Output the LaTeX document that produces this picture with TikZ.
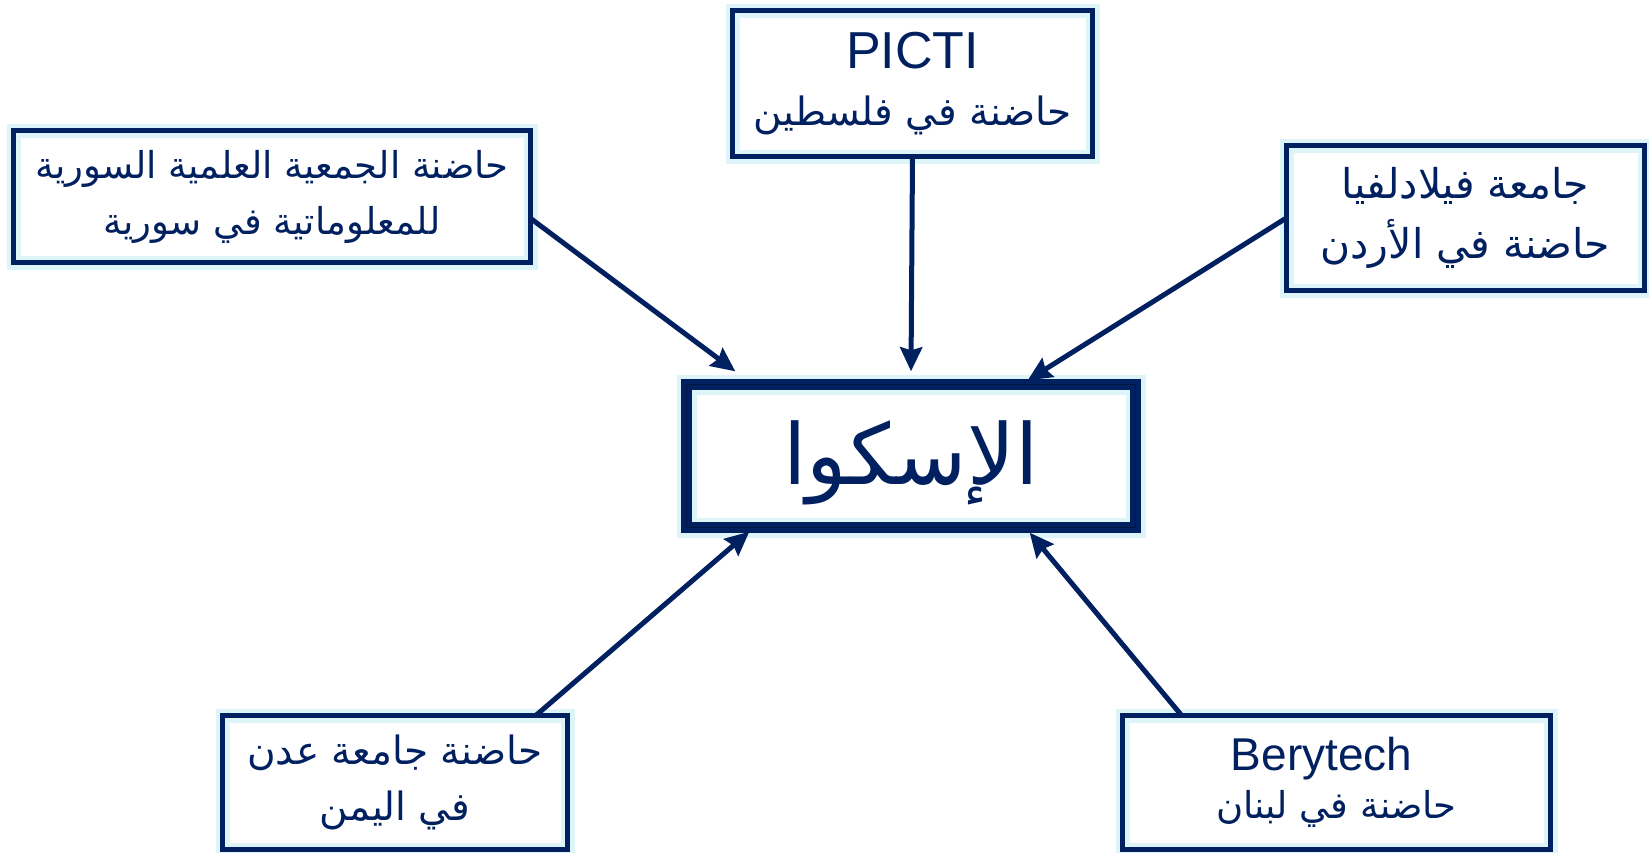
\documentclass[tikz,border=0pt]{standalone}
\usepackage{fontspec}
\setmainfont{Liberation Sans}
\newfontfamily\arfont[Script=Arabic]{DejaVu Sans}
\TeXXeTstate=1
\usetikzlibrary{arrows.meta,calc}
\definecolor{navy}{HTML}{002060}
\definecolor{glow}{HTML}{DDF4F9}
\newcommand{\ar}[1]{{\arfont\beginR #1\endR}}
\begin{document}
\begin{tikzpicture}[x=1pt,y=-1pt,
  box/.style={fill=white, text=navy, align=center, inner sep=0pt,
    postaction={draw=glow, line width=14pt},
    postaction={draw=navy, line width=5.5pt}},
  mainbox/.style={fill=white, text=navy, align=center, inner sep=0pt,
    postaction={draw=glow, line width=20pt},
    postaction={draw=navy, line width=11pt},
    postaction={draw=navy!70!black, line width=1pt}},
  arr/.style={draw=navy, line width=5pt, -{Stealth[length=24pt,width=22pt,inset=3pt]}}
]
\useasboundingbox (0,0) rectangle (1649,852);

\node[box, font=\fontsize{37}{56}\selectfont, minimum width=517pt, minimum height=132pt] (syr) at (272,196.5)
  {\ar{حاضنة الجمعية العلمية السورية}\\\ar{للمعلوماتية في سورية}};
\node[box, minimum width=360pt, minimum height=146pt] (picti) at (912.5,83.5)
  {{\fontsize{52}{56}\selectfont PICTI}\\[26pt]{\fontsize{39}{56}\selectfont\ar{حاضنة في فلسطين}}};
\node[box, font=\fontsize{41}{60}\selectfont, minimum width=358pt, minimum height=145pt] (jor) at (1465.5,218)
  {\ar{جامعة فيلادلفيا}\\\ar{حاضنة في الأردن}};
\node[box, font=\fontsize{39}{56}\selectfont, minimum width=345pt, minimum height=134pt] (yem) at (395,782.5)
  {\ar{حاضنة جامعة عدن}\\\ar{في اليمن}};
\node[box, minimum width=428pt, minimum height=134pt] (leb) at (1336.5,782.5)
  {{\fontsize{46}{52}\selectfont Berytech\hspace*{30pt}}\\[10pt]{\fontsize{37}{52}\selectfont\ar{حاضنة في لبنان}}};
\node[mainbox, minimum width=449pt, minimum height=143pt,
  font=\fontsize{84}{90}\selectfont] (esc) at (911,456) {\raisebox{-28pt}[0pt][0pt]{\ar{الإسكوا}}};

\draw[arr] ([yshift=-22pt]syr.east) -- ([xshift=49pt,yshift=13pt]esc.north west);
\draw[arr] (picti.south) -- ([yshift=13pt]esc.north);
\draw[arr] (jor.west) -- ([xshift=-108pt,yshift=4pt]esc.north east);
\draw[arr] ([xshift=141pt]yem.north) -- ([xshift=63pt,yshift=-4pt]esc.south west);
\draw[arr] ([xshift=-155pt]leb.north) -- ([xshift=-106pt,yshift=-5pt]esc.south east);
\end{tikzpicture}
\end{document}
